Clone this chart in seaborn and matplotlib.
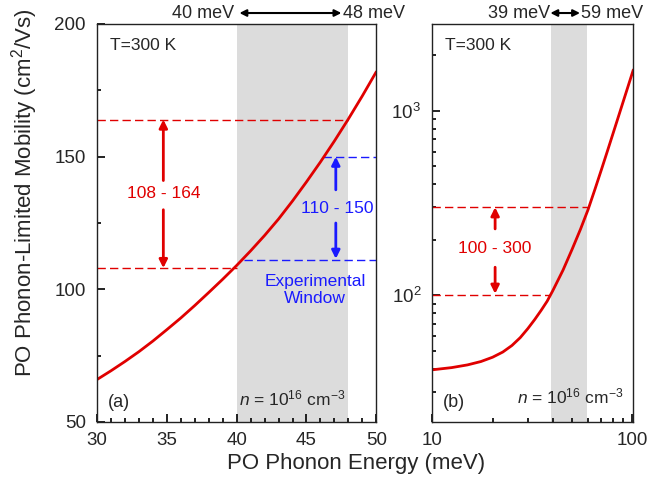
import matplotlib.pyplot as plt
import matplotlib.ticker as mt
import seaborn as sns

# curve (a): linear axes
energy_a = [30, 31, 32, 33, 34, 35, 36, 37, 38, 39, 40,
            41, 42, 43, 44, 45, 46, 47, 48, 49, 50]
mobility_a = [66.0, 69.3, 72.8, 76.5, 80.5, 84.8, 89.2, 93.9, 98.8, 103.8, 109.0,
              114.5, 120.3, 126.5, 133.3, 140.5, 148.0, 155.9, 164.2, 172.9, 182.0]

# curve (b): log-log axes
energy_b = [10, 12.5, 15, 17.5, 20, 22.5, 25, 27.5, 30, 32.5, 35, 37.5, 40,
            45, 50, 55, 60, 65, 70, 75, 80, 85, 90, 95, 101]
mobility_b = [39.5, 40.6, 42.0, 43.8, 46.2, 49.3, 53.5, 59.0, 66.0, 74.0, 83.0, 93.0, 106.0,
              137.0, 178.0, 228.0, 291.0, 376.0, 480.0, 605.0, 753.0, 925.0, 1124.0, 1351.0, 1665.0]

window_a = (40, 48)
window_b = (39, 59)
theory_a = (108, 164)
experiment_a = (111, 150)
theory_b = (100, 300)

RED = '#e00000'
BLUE = '#1a1aff'
SHADE = '#dcdcdc'

sns.set_style('ticks')
plt.rcParams['font.family'] = ['Liberation Sans', 'DejaVu Sans']
plt.rcParams['mathtext.fontset'] = 'custom'
plt.rcParams['mathtext.rm'] = 'Liberation Sans'
plt.rcParams['mathtext.it'] = 'Liberation Sans:italic'
plt.rcParams['axes.linewidth'] = 1.0
plt.rcParams['axes.edgecolor'] = '#222222'

fig = plt.figure(figsize=(6.68, 4.83), dpi=100)
ax_a = fig.add_axes([97 / 668, 61 / 483, 279.3 / 668, 398 / 483])
ax_b = fig.add_axes([432.3 / 668, 61 / 483, 201 / 668, 398 / 483])

# ---- panel (a)
ax_a.axvspan(*window_a, color=SHADE, lw=0, zorder=0)
sns.lineplot(x=energy_a, y=mobility_a, ax=ax_a, color=RED, lw=2, zorder=3)
dash = dict(lw=1.0, dashes=(6, 3))
ax_a.plot([30, 48], [theory_a[1]] * 2, color=RED, **dash)
ax_a.plot([30, 40], [theory_a[0]] * 2, color=RED, **dash)
ax_a.plot([46.2, 50], [experiment_a[1]] * 2, color=BLUE, **dash)
ax_a.plot([40.5, 50], [experiment_a[0]] * 2, color=BLUE, **dash)

arrow = dict(arrowstyle='-|>', lw=2, shrinkA=0, shrinkB=0, mutation_scale=12)
ax_a.annotate('', xy=(34.75, theory_a[1]), xytext=(34.75, 141), arrowprops=dict(color=RED, **arrow))
ax_a.annotate('', xy=(34.75, theory_a[0]), xytext=(34.75, 130), arrowprops=dict(color=RED, **arrow))
ax_a.text(34.8, 136, f'{theory_a[0]} - {theory_a[1]}', color=RED, fontsize=12.5, ha='center', va='center')

ax_a.annotate('', xy=(47.1, experiment_a[1]), xytext=(47.1, 137.5), arrowprops=dict(color=BLUE, **arrow))
ax_a.annotate('', xy=(47.1, experiment_a[0] + 0.5), xytext=(47.1, 125), arrowprops=dict(color=BLUE, **arrow))
ax_a.text(47.2, 130.5, '110 - 150', color=BLUE, fontsize=12.5, ha='center', va='center')
ax_a.text(45.6, 99.8, 'Experimental\nWindow', color=BLUE, fontsize=12.5, ha='center', va='center',
          linespacing=1.15)

ax_a.text(0.048, 0.947, 'T=300 K', transform=ax_a.transAxes, fontsize=12.5, va='center')
ax_a.text(0.04, 0.048, '(a)', transform=ax_a.transAxes, fontsize=13, va='center')
ax_a.text(44.0, 58.9, r'$n$ = 10$^{16}$ cm$^{-3}$', fontsize=12.5, ha='center', va='center')

ax_a.set_xlim(30, 50)
ax_a.set_ylim(50, 200)
ax_a.xaxis.set_major_locator(mt.MultipleLocator(5))
ax_a.xaxis.set_minor_locator(mt.MultipleLocator(1))
ax_a.yaxis.set_major_locator(mt.MultipleLocator(50))
ax_a.yaxis.set_minor_locator(mt.MultipleLocator(25))

top = dict(xycoords=('data', 'axes fraction'), textcoords=('data', 'axes fraction'))
ya = 1.0276
ax_a.annotate('', xy=(47.5, ya), xytext=(40.2, ya), **top,
              arrowprops=dict(arrowstyle='<|-|>', lw=1.5, color='black', shrinkA=0, shrinkB=0,
                              mutation_scale=10), annotation_clip=False)
ax_a.text(39.8, ya, '40 meV', transform=ax_a.get_xaxis_transform(), ha='right', va='center', fontsize=13)
ax_a.text(47.6, ya, '48 meV', transform=ax_a.get_xaxis_transform(), ha='left', va='center', fontsize=13)

ax_a.set_xlabel('')
ax_a.set_ylabel('')

# ---- panel (b)
ax_b.set_xscale('log')
ax_b.set_yscale('log')
ax_b.axvspan(*window_b, color=SHADE, lw=0, zorder=0)
sns.lineplot(x=energy_b, y=mobility_b, ax=ax_b, color=RED, lw=2, zorder=3)
ax_b.plot([10, 60], [theory_b[1]] * 2, color=RED, **dash)
ax_b.plot([10, 38.8], [theory_b[0]] * 2, color=RED, **dash)
ax_b.annotate('', xy=(20.6, theory_b[1]), xytext=(20.6, 229), arrowprops=dict(color=RED, **arrow))
ax_b.annotate('', xy=(20.6, theory_b[0] + 2), xytext=(20.6, 142), arrowprops=dict(color=RED, **arrow))
ax_b.text(20.6, 179, f'{theory_b[0]} - {theory_b[1]}', color=RED, fontsize=12.5, ha='center', va='center')

ax_b.text(0.063, 0.947, 'T=300 K', transform=ax_b.transAxes, fontsize=12.5, va='center')
ax_b.text(0.053, 0.048, '(b)', transform=ax_b.transAxes, fontsize=13, va='center')
ax_b.text(48.8, 28.2, r'$n$ = 10$^{16}$ cm$^{-3}$', fontsize=12.5, ha='center', va='center')

ax_b.set_xlim(10, 101)
ax_b.set_ylim(20.6, 2950)
ax_b.xaxis.set_minor_formatter(mt.NullFormatter())
ax_b.yaxis.set_minor_formatter(mt.NullFormatter())
ax_b.xaxis.set_major_formatter(mt.FuncFormatter(lambda v, p: f'{v:g}'))

ax_b.annotate('', xy=(54.7, ya), xytext=(38.9, ya), **top,
              arrowprops=dict(arrowstyle='<|-|>', lw=1.5, color='black', shrinkA=0, shrinkB=0,
                              mutation_scale=10), annotation_clip=False)
ax_b.text(38.6, ya, '39 meV', transform=ax_b.get_xaxis_transform(), ha='right', va='center', fontsize=13)
ax_b.text(55.5, ya, '59 meV', transform=ax_b.get_xaxis_transform(), ha='left', va='center', fontsize=13)
ax_b.set_xlabel('')
ax_b.set_ylabel('')

# tick styling last, after scales and plotting
for ax in (ax_a, ax_b):
    ax.tick_params(which='both', direction='in', bottom=True, left=True, top=False, right=False,
                   labelsize=13.5, width=1.3, color='#111111')
    ax.tick_params(which='major', length=5.5)
    ax.tick_params(which='minor', length=3.2)
    ax.tick_params(axis='x', pad=7)
    ax.tick_params(axis='y', pad=8)
    for s in ax.spines.values():
        s.set_visible(True)
        s.set_zorder(5)

fig.text(356 / 668, 1 - 463 / 483, 'PO Phonon Energy (meV)', fontsize=16, ha='center', va='center')
fig.text(25 / 668, 1 - 193 / 483, 'PO Phonon-Limited Mobility (cm$^2$/Vs)', fontsize=16,
         rotation=90, ha='center', va='center')

fig.savefig('out.png', dpi=100)
